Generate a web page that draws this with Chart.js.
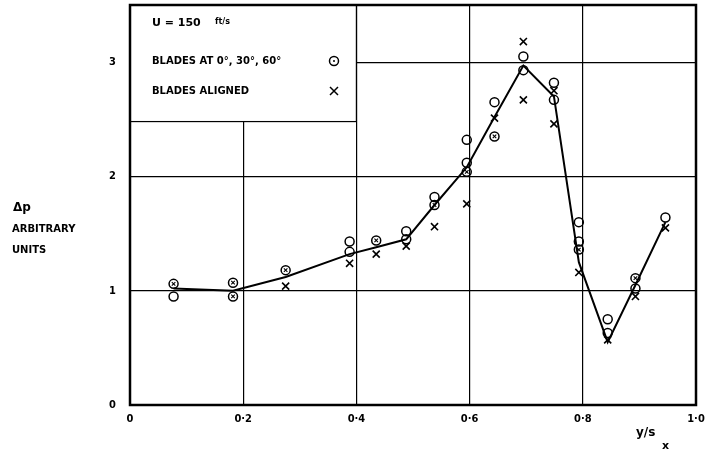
<!DOCTYPE html>
<html>
<head>
<meta charset="utf-8">
<script src="https://cdn.jsdelivr.net/npm/chart.js@4"></script>
<style>body{margin:0;background:#fff}</style>
</head>
<body>
<canvas id="myChart" width="706" height="453"></canvas>
<script>
const xTicks = [0, 0.2, 0.4, 0.6, 0.8, 1.0];
const xTickLabels = ['0', '0·2', '0·4', '0·6', '0·8', '1·0'];
const yTicks = [0, 1, 2, 3];

// blades at 0, 30, 60 deg (circles)
const circleX = [0.077, 0.077, 0.182, 0.182, 0.275, 0.388, 0.388, 0.435, 0.488, 0.488,
  0.538, 0.538, 0.595, 0.595, 0.595, 0.644, 0.644, 0.695, 0.695, 0.749, 0.749,
  0.793, 0.793, 0.793, 0.844, 0.844, 0.893, 0.893, 0.946];
const circleY = [1.06, 0.95, 1.07, 0.95, 1.18, 1.43, 1.34, 1.44, 1.52, 1.45,
  1.82, 1.75, 2.32, 2.12, 2.04, 2.65, 2.35, 3.05, 2.93, 2.82, 2.67,
  1.60, 1.43, 1.36, 0.75, 0.63, 1.11, 1.02, 1.64];

// blades aligned (crosses)
const crossX = [0.275, 0.388, 0.435, 0.488, 0.538, 0.595, 0.644, 0.695, 0.695, 0.749, 0.749,
  0.793, 0.844, 0.893, 0.946];
const crossY = [1.04, 1.24, 1.32, 1.39, 1.56, 1.76, 2.51, 3.18, 2.67, 2.75, 2.46,
  1.16, 0.57, 0.95, 1.55];

// points where a cross sits inside a circle
const bothX = [0.077, 0.182, 0.182, 0.275, 0.435, 0.538, 0.595, 0.644, 0.793, 0.893];
const bothY = [1.06, 1.07, 0.95, 1.18, 1.44, 1.75, 2.04, 2.35, 1.36, 1.11];

// faired curve
const curveX = [0.077, 0.182, 0.275, 0.388, 0.435, 0.488, 0.538, 0.595, 0.644, 0.695, 0.749, 0.793, 0.844, 0.893, 0.946];
const curveY = [1.02, 1.00, 1.12, 1.32, 1.38, 1.45, 1.75, 2.08, 2.52, 2.97, 2.70, 1.25, 0.55, 1.05, 1.60];

const pts = (xs, ys) => xs.map((x, i) => ({x: x, y: ys[i]}));
const font = {family: 'DejaVu Sans Condensed', weight: 'bold', size: 11};

// drop the padding scales ask for, so the layout padding alone places the frame
function noPad(s) {
  s.paddingTop = 0; s.paddingBottom = 0; s.paddingLeft = 0; s.paddingRight = 0;
}

const paper = {
  id: 'paper',
  beforeDatasetsDraw(chart) {
    const c = chart.ctx, xs = chart.scales.x, ys = chart.scales.y;
    const l = xs.getPixelForValue(0), r = xs.getPixelForValue(0.4);
    const t = ys.getPixelForValue(3.5), b = ys.getPixelForValue(2.48);
    c.save();
    c.fillStyle = '#fff';
    c.fillRect(l, t, r - l, b - t);
    c.strokeStyle = '#000';
    c.lineWidth = 1.2;
    c.strokeRect(l, t, r - l, b - t);
    c.fillStyle = '#000';
    c.font = 'bold 11px "DejaVu Sans"';
    c.textBaseline = 'middle';
    c.fillText('U = 150', 152, 23);
    c.font = 'bold 8px "DejaVu Sans"';
    c.fillText('ft/s', 215, 22);
    c.font = 'bold 10px "DejaVu Sans"';
    c.fillText('BLADES AT 0°, 30°, 60°', 152, 61);
    c.fillText('BLADES ALIGNED', 152, 91);
    c.lineWidth = 1.5;
    c.beginPath(); c.arc(334, 61, 4.5, 0, Math.PI * 2); c.stroke();
    c.beginPath(); c.arc(334, 61, 1, 0, Math.PI * 2); c.fill();
    c.beginPath();
    c.moveTo(330, 87); c.lineTo(338, 95);
    c.moveTo(338, 87); c.lineTo(330, 95);
    c.stroke();
    c.restore();
  },
  afterDatasetsDraw(chart) {
    const c = chart.ctx, a = chart.chartArea;
    c.save();
    c.strokeStyle = '#000';
    c.lineWidth = 2.5;
    c.strokeRect(a.left, a.top, a.right - a.left, a.bottom - a.top);
    c.fillStyle = '#000';
    c.textBaseline = 'middle';
    c.font = 'bold 12px "DejaVu Sans"';
    c.fillText('Δp', 13, 208);
    c.font = 'bold 10px "DejaVu Sans"';
    c.fillText('ARBITRARY', 12, 229);
    c.fillText('UNITS', 12, 250);
    c.font = 'bold 12px "DejaVu Sans"';
    c.fillText('y/s', 636, 433);
    c.font = 'bold 11px "DejaVu Sans"';
    c.fillText('x', 662, 446);
    c.restore();
  }
};

new Chart(document.getElementById('myChart'), {
  type: 'scatter',
  data: {
    datasets: [{
      label: 'curve',
      data: pts(curveX, curveY),
      showLine: true,
      borderColor: '#000',
      borderWidth: 2,
      pointRadius: 0,
      order: 3
    }, {
      label: 'Blades at 0°, 30°, 60°',
      data: pts(circleX, circleY),
      pointStyle: 'circle',
      pointRadius: 4.5,
      borderColor: '#000',
      backgroundColor: 'rgba(0,0,0,0)',
      borderWidth: 1.5,
      order: 1
    }, {
      label: 'Blades aligned',
      data: pts(crossX, crossY),
      pointStyle: 'crossRot',
      pointRadius: 5,
      borderColor: '#000',
      borderWidth: 1.6,
      order: 1
    }, {
      label: 'both',
      data: pts(bothX, bothY),
      pointStyle: 'crossRot',
      pointRadius: 2.5,
      borderColor: '#000',
      borderWidth: 1.1,
      order: 1
    }]
  },
  options: {
    responsive: false,
    animation: false,
    layout: {padding: {left: 0, top: 5, right: 10, bottom: 0}, autoPadding: false},
    plugins: {legend: {display: false}, tooltip: {enabled: false}},
    scales: {
      x: {
        type: 'linear', min: 0, max: 1,
        afterFit(s) { s.height = 48; noPad(s); },
        afterBuildTicks(s) { s.ticks = xTicks.map(v => ({value: v})); },
        ticks: {
          color: '#000', font: font, padding: 8, maxRotation: 0,
          callback: (v) => xTickLabels[xTicks.findIndex(t => Math.abs(t - v) < 1e-6)]
        },
        grid: {color: '#000', lineWidth: 1.2, drawTicks: false},
        border: {display: false}
      },
      y: {
        type: 'linear', min: 0, max: 3.5,
        afterFit(s) { s.width = 130; noPad(s); },
        afterBuildTicks(s) { s.ticks = yTicks.map(v => ({value: v})); },
        ticks: {color: '#000', font: font, padding: 14},
        grid: {color: '#000', lineWidth: 1.2, drawTicks: false},
        border: {display: false}
      }
    }
  },
  plugins: [paper]
});
</script>
</body>
</html>
